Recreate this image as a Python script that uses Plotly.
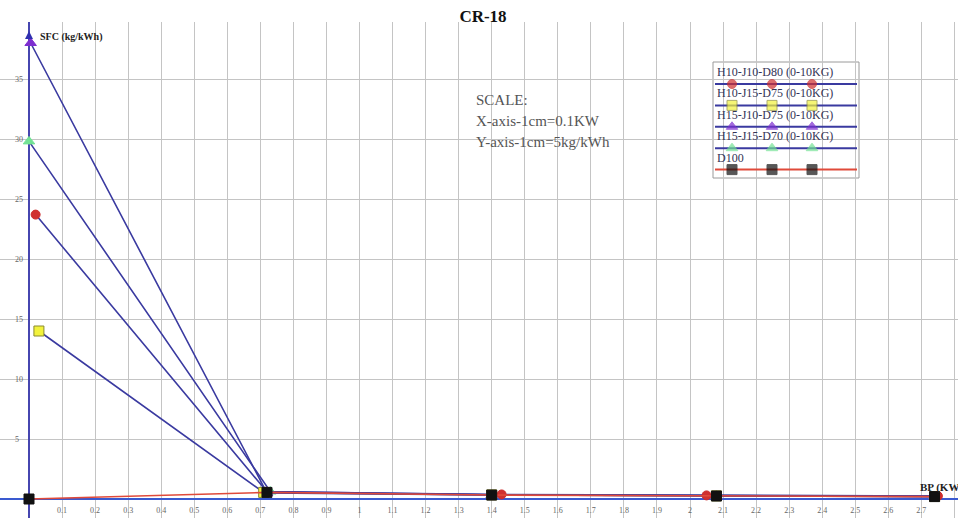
import plotly.graph_objects as go

# ---------------- data ----------------
series_names = ["H10-J10-D80 (0-10KG)", "H10-J15-D75 (0-10KG)",
                "H15-J10-D75 (0-10KG)", "H15-J15-D70 (0-10KG)", "D100"]

bp_h10j10d80 = [0.02, 0.72, 1.43, 2.05, 2.75]
sfc_h10j10d80 = [23.7, 0.6, 0.38, 0.3, 0.25]

bp_h10j15d75 = [0.03, 0.71, 1.40, 2.08, 2.74]
sfc_h10j15d75 = [14.0, 0.55, 0.34, 0.26, 0.21]

bp_h15j10d75 = [0.005, 0.72, 1.40, 2.08, 2.74]
sfc_h15j10d75 = [38.0, 0.5, 0.34, 0.26, 0.2]

bp_h15j15d70 = [0.0, 0.73, 1.40, 2.08, 2.74]
sfc_h15j15d70 = [29.8, 0.62, 0.35, 0.27, 0.22]

bp_d100 = [0.0, 0.72, 1.40, 2.08, 2.74]
sfc_d100 = [0.0, 0.55, 0.33, 0.25, 0.2]

x_tick_vals = [round(0.1 * i, 1) for i in range(1, 29)]
x_tick_text = ["0.1", "0.2", "0.3", "0.4", "0.5", "0.6", "0.7", "0.8", "0.9", "1",
               "1.1", "1.2", "1.3", "1.4", "1.5", "1.6", "1.7", "1.8", "1.9", "2",
               "2.1", "2.2", "2.3", "2.4", "2.5", "2.6", "2.7", "2.8"]
y_tick_vals = [5, 10, 15, 20, 25, 30, 35]
y_tick_text = ["5", "10", "15", "20", "25", "30", "35"]

# ---------------- styles ----------------
W, H = 958, 518
TOP = 22
FONT = "Liberation Serif"
BLEND_LINE = "#3a3aa0"
D100_LINE = "#e04a3a"

styles = [
    dict(symbol="circle", color="#d03030", size=9, lc="#cc2a2a", line_col=BLEND_LINE),
    dict(symbol="square", color="#f2f23c", size=10, lc="#8a8a30", line_col=BLEND_LINE),
    dict(symbol="triangle-up", color="#7d2ed0", size=10, lc="#7d2ed0", line_col=BLEND_LINE),
    dict(symbol="triangle-up", color="#72e294", size=10, lc="#72e294", line_col=BLEND_LINE),
    dict(symbol="square", color="#111111", size=10, lc="#111111", line_col=D100_LINE),
]
data_xy = [(bp_h10j10d80, sfc_h10j10d80), (bp_h10j15d75, sfc_h10j15d75),
           (bp_h15j10d75, sfc_h15j10d75), (bp_h15j15d70, sfc_h15j15d70),
           (bp_d100, sfc_d100)]

fig = go.Figure()
order = [3, 2, 1, 0, 4]
for i in order:
    xs, ys = data_xy[i]
    s = styles[i]
    fig.add_trace(go.Scatter(
        x=xs, y=ys, mode="lines+markers", name=series_names[i], showlegend=False,
        line=dict(color=s["line_col"], width=1.6),
        marker=dict(symbol=s["symbol"], color=s["color"], size=s["size"],
                    line=dict(color=s["lc"], width=1)),
        cliponaxis=False))

# ---------------- custom legend (overlay axis 0..1) ----------------
def px_x(p):
    return p / W

def px_y(p):
    return (H - p) / (H - TOP)

LEG_X0, LEG_X1, LEG_Y0, LEG_Y1 = 713, 859, 62, 178
ROW_STEP = 21.4
TEXT_Y0 = 72
LINE_Y0 = 84
MARK_X = [732, 772, 812]

fig.add_shape(type="rect", xref="paper", yref="paper",
              x0=px_x(LEG_X0), x1=px_x(LEG_X1), y0=px_y(LEG_Y1), y1=px_y(LEG_Y0),
              line=dict(color="#9a9a9a", width=1), fillcolor="white", layer="between")

for i, name in enumerate(series_names):
    s = styles[i]
    ly = px_y(LINE_Y0 + ROW_STEP * i)
    xs = [px_x(LEG_X0 + 2)] + [px_x(m) for m in MARK_X] + [px_x(LEG_X1 - 2)]
    sizes = [0] + [s["size"]] * 3 + [0]
    fig.add_trace(go.Scatter(
        x=xs, y=[ly] * 5, xaxis="x2", yaxis="y2", mode="lines+markers",
        showlegend=False, hoverinfo="skip",
        line=dict(color=s["line_col"], width=2),
        marker=dict(symbol=s["symbol"], color=s["color"], size=sizes,
                    line=dict(color=s["lc"], width=1))))
    fig.add_annotation(xref="paper", yref="paper", x=px_x(LEG_X0 + 2),
                       y=px_y(TEXT_Y0 + ROW_STEP * i), text=name, showarrow=False,
                       xanchor="left", yanchor="middle",
                       font=dict(family=FONT, size=12, color="#333355"))

# ---------------- scale note ----------------
scale_lines = ["SCALE:", "X-axis-1cm=0.1KW", "Y-axis-1cm=5kg/kWh"]
for k, t in enumerate(scale_lines):
    fig.add_annotation(xref="paper", yref="paper", x=px_x(474), y=px_y(100 + 21 * k),
                       text=t, showarrow=False, xanchor="left", yanchor="middle",
                       font=dict(family=FONT, size=15, color="#555555"))

# axis titles
fig.add_annotation(x=0, y=38.5, text="<b>SFC (kg/kWh)</b>", showarrow=False,
                   xanchor="left", yanchor="middle", xshift=9,
                   font=dict(family=FONT, size=10, color="#222222"))
fig.add_annotation(x=2.69, y=1.0, text="<b>BP (KW)</b>", showarrow=False,
                   xanchor="left", yanchor="middle",
                   font=dict(family=FONT, size=11, color="#222222"))
# y axis arrow head
fig.add_annotation(x=0, y=39.0, ax=0, ay=6, axref="pixel", ayref="pixel",
                   showarrow=True, arrowhead=2, arrowsize=0.8, arrowwidth=2,
                   arrowcolor="#3030b0", text="")

x_min = -29 / 330.5
x_max = (W - 29) / 330.5
y_max = (499 - TOP) / 12.0
y_min = y_max - (H - TOP) / 12.0

fig.update_layout(
    width=W, height=H,
    margin=dict(l=0, r=0, t=TOP, b=0),
    paper_bgcolor="white", plot_bgcolor="white",
    font=dict(family=FONT),
    title=dict(text="<b>CR-18</b>", x=483 / W, xanchor="center", y=1 - 16 / H,
               yanchor="middle", font=dict(family=FONT, size=17, color="#111111")),
    xaxis=dict(range=[x_min, x_max], tickvals=x_tick_vals, ticktext=x_tick_text,
               showgrid=True, gridcolor="#c4c4c4", gridwidth=1,
               zeroline=True, zerolinecolor="#4646b0", zerolinewidth=2,
               showline=False, ticks="", ticklabelposition="inside",
               tickfont=dict(family=FONT, size=8, color="#666666"), fixedrange=True),
    yaxis=dict(range=[y_min, y_max], tickvals=y_tick_vals, ticktext=y_tick_text,
               showgrid=True, gridcolor="#c4c4c4", gridwidth=1,
               zeroline=True, zerolinecolor="#3a5ad0", zerolinewidth=2,
               showline=False, ticks="", ticklabelposition="inside",
               ticklabelstandoff=12,
               tickfont=dict(family=FONT, size=8, color="#666666"), fixedrange=True),
    xaxis2=dict(overlaying="x", range=[0, 1], visible=False, fixedrange=True),
    yaxis2=dict(overlaying="y", range=[0, 1], visible=False, fixedrange=True),
    showlegend=False,
    hovermode=False,
)

fig.write_html("out.html")
